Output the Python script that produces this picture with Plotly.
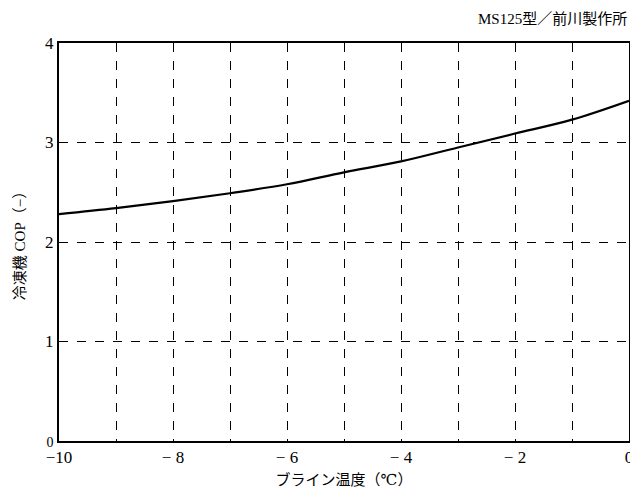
import plotly.graph_objects as go

brine_temp = [-10, -9, -8, -7, -6, -5, -4, -3, -2, -1, 0]
cop = [2.28, 2.34, 2.41, 2.49, 2.58, 2.70, 2.81, 2.95, 3.09, 3.23, 3.42]

x_tickvals = list(range(-10, 1))
x_ticktext = ["−10", "", "− 8", "", "− 6", "", "− 4", "", "− 2", "", "0"]
y_tickvals = [0, 1, 2, 3, 4]
y_ticktext = ["<span style='font-size:14px'>0</span>", "1", "2", "3", "4"]

title_text = "MS125型／前川製作所"
x_title = "ブライン温度（℃）"
y_title = "冷凍機 COP（−）"

font_family = "Liberation Serif, DejaVu Serif, Noto Sans CJK JP, serif"

fig = go.Figure()
fig.add_trace(go.Scatter(
    x=brine_temp, y=cop, mode="lines",
    line=dict(color="black", width=2.2, shape="spline"),
    showlegend=False, hoverinfo="skip",
))

fig.update_layout(
    width=630, height=486,
    margin=dict(l=51, r=5, t=35, b=53),
    paper_bgcolor="white", plot_bgcolor="white",
    font=dict(family=font_family, color="black", size=16),
    annotations=[dict(
        text=title_text, xref="paper", yref="paper", x=1.0, y=1.0,
        xanchor="right", yanchor="bottom", yshift=14, showarrow=False,
        font=dict(size=15, family=font_family, color="black"),
    )],
)
fig.update_xaxes(
    range=[-10, 0], tickvals=x_tickvals, ticktext=x_ticktext,
    showgrid=True, gridcolor="black", gridwidth=1, griddash="dash",
    showline=True, linecolor="black", linewidth=2, mirror=True,
    ticks="", zeroline=False,
    title=dict(text=x_title, font=dict(size=15, family=font_family), standoff=8),
    tickfont=dict(size=17, family=font_family),
)
fig.update_yaxes(
    range=[0, 4], tickvals=y_tickvals, ticktext=y_ticktext,
    showgrid=True, gridcolor="black", gridwidth=1, griddash="dash",
    showline=True, linecolor="black", linewidth=2, mirror=True,
    ticks="", zeroline=False,
    title=dict(text=y_title, font=dict(size=15, family=font_family), standoff=16),
    tickfont=dict(size=17, family=font_family),
)

fig.write_html("out.html")
